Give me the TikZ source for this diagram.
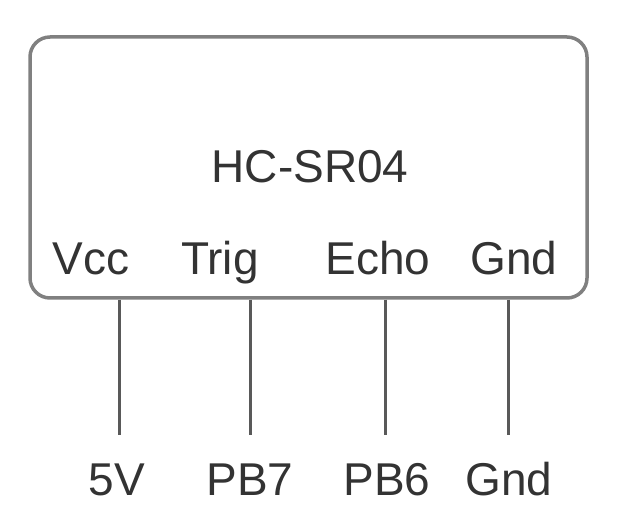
\documentclass[tikz,border=0pt]{standalone}
\usepackage{fontspec}
\setmainfont{Liberation Sans}
\usetikzlibrary{positioning}
\definecolor{boxgray}{HTML}{808080}
\definecolor{wiregray}{HTML}{595959}
\definecolor{txtgray}{HTML}{333333}
\tikzstyle{lbl} = [text=txtgray, font=\fontsize{46}{50}\selectfont, anchor=base, inner sep=0pt]
\tikzstyle{wire} = [draw=wiregray, line width=3pt]

\begin{document}
\begin{tikzpicture}[x=1pt,y=1pt]
\useasboundingbox (0,0) rectangle (631,522);

% The module
\node (mod) at (308.5,354.5) [draw=boxgray, line width=3.5pt, rounded corners=20pt,
  minimum width=557pt, minimum height=261pt, inner sep=0pt] {};
\node (title) at (310,339) [lbl] {HC-SR04};

% Pin names
\node (vcc)  at (91,247)  [lbl] {Vcc};
\node (trig) at (220,247) [lbl] {Trig};
\node (echo) at (378,247) [lbl] {Echo};
\node (gnd)  at (514,247) [lbl] {Gnd};

% Connections
\node (v5)  at (117,27) [lbl] {5V};
\node (pb7) at (250,27) [lbl] {PB7};
\node (pb6) at (387,27) [lbl] {PB6};
\node (gnd2) at (509,27) [lbl] {Gnd};

\coordinate (w1) at (119,87);
\coordinate (w2) at (250,87);
\coordinate (w3) at (385,87);
\coordinate (w4) at (508,87);
\foreach \w in {w1,w2,w3,w4}
  \draw[wire] (\w |- mod.south) -- (\w);

\end{tikzpicture}
\end{document}
